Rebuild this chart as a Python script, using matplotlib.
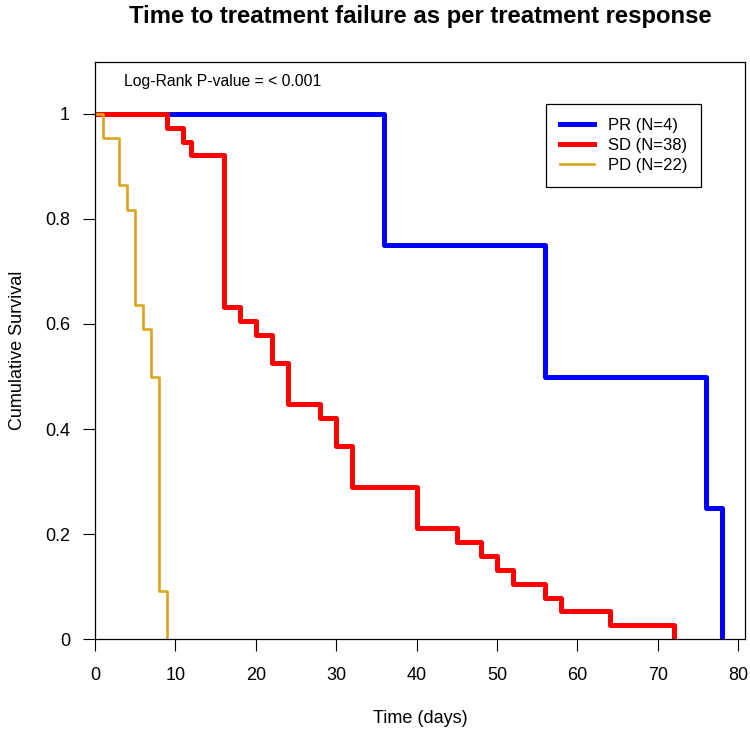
import matplotlib
matplotlib.use("Agg")
import matplotlib.pyplot as plt

# Kaplan-Meier step data (time in days, survival)
pr_time = [0, 36, 56, 76, 78]
pr_surv = [1.0, 0.75, 0.5, 0.25, 0.0]

sd_time = [0, 9, 11, 12, 16, 18, 20, 22, 24, 28, 30, 32, 40, 45, 48, 50, 52, 56, 58, 64, 72]
sd_surv = [1.0, 0.974, 0.947, 0.921, 0.632, 0.605, 0.579, 0.526, 0.447, 0.421, 0.368,
           0.289, 0.211, 0.184, 0.158, 0.132, 0.105, 0.079, 0.053, 0.026, 0.0]

pd_time = [0, 1, 3, 4, 5, 6, 7, 8, 9]
pd_surv = [1.0, 0.955, 0.864, 0.818, 0.636, 0.591, 0.5, 0.091, 0.0]

labels = ["PR (N=4)", "SD (N=38)", "PD (N=22)"]
colors = ["#0000FF", "#FF0000", "#DAA520"]
x_ticks = [0, 10, 20, 30, 40, 50, 60, 70, 80]
y_ticks = [0, 0.2, 0.4, 0.6, 0.8, 1.0]
y_ticklabels = ["0", "0.2", "0.4", "0.6", "0.8", "1"]

plt.rcParams['font.family'] = ['Liberation Sans', 'DejaVu Sans']

fig = plt.figure(figsize=(7.5, 7.38), dpi=100)
bottom, top = 0.1341, 0.916
ax = fig.add_axes([0.1267, bottom, 0.9933 - 0.1267, top - bottom])

ax.step(pr_time, pr_surv, where='post', color=colors[0], lw=3.6, label=labels[0])
ax.step(sd_time, sd_surv, where='post', color=colors[1], lw=3.6, label=labels[1])
ax.step(pd_time, pd_surv, where='post', color=colors[2], lw=1.9, label=labels[2])

ax.set_xlim(0, 80.85)
ax.set_ylim(0, 1.099)
ax.set_xticks(x_ticks)
ax.set_yticks(y_ticks)
ax.set_yticklabels(y_ticklabels)
ax.tick_params(axis='both', direction='out', length=8.6, width=0.8, labelsize=13)
ax.tick_params(axis='x', pad=11.5)
ax.tick_params(axis='y', pad=9.4)
for s in ax.spines.values():
    s.set_linewidth(0.9)

ax.text(3.6, 1.0615, "Log-Rank P-value = < 0.001", fontsize=11.3, va='center', ha='left')

leg = ax.legend(loc='upper left', bbox_to_anchor=(0.694, 0.927), fontsize=12,
                frameon=True, fancybox=False, framealpha=1, edgecolor='black',
                handlelength=2.0, handletextpad=0.85, borderpad=0.85,
                labelspacing=0.3, borderaxespad=0)
leg.get_frame().set_linewidth(0.9)

fig.text(0.561, 0.977, "Time to treatment failure as per treatment response",
         ha='center', va='center', fontsize=17.2, fontweight='bold')
fig.text(0.56, 0.027, "Time (days)", ha='center', va='center', fontsize=13)
fig.text(0.023, 0.5 * (bottom + top), "Cumulative Survival", ha='center', va='center',
         rotation=90, fontsize=13)

fig.savefig("out.png", dpi=100)
